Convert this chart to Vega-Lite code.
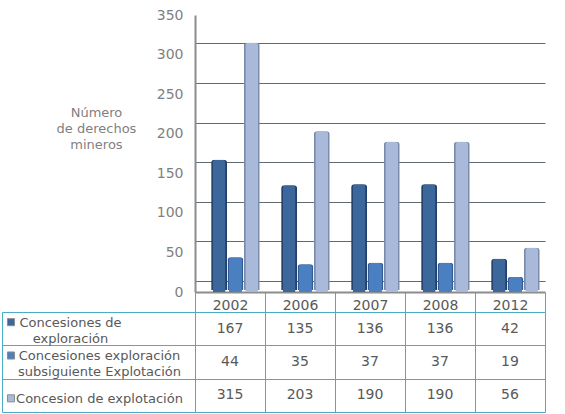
{
  "$schema": "https://vega.github.io/schema/vega-lite/v6.json",
  "background": "white",
  "padding": {"left": 2, "top": 8, "right": 20, "bottom": 1},
  "config": {
    "font": "DejaVu Sans",
    "view": {"stroke": null},
    "axis": {"labelFont": "DejaVu Sans", "titleFont": "DejaVu Sans"}
  },
  "datasets": {
    "derechos": [
      {"anio": "2002", "tipo": "Concesiones de exploración", "n": 167},
      {"anio": "2006", "tipo": "Concesiones de exploración", "n": 135},
      {"anio": "2007", "tipo": "Concesiones de exploración", "n": 136},
      {"anio": "2008", "tipo": "Concesiones de exploración", "n": 136},
      {"anio": "2012", "tipo": "Concesiones de exploración", "n": 42},
      {"anio": "2002", "tipo": "Concesiones exploración subsiguiente Explotación", "n": 44},
      {"anio": "2006", "tipo": "Concesiones exploración subsiguiente Explotación", "n": 35},
      {"anio": "2007", "tipo": "Concesiones exploración subsiguiente Explotación", "n": 37},
      {"anio": "2008", "tipo": "Concesiones exploración subsiguiente Explotación", "n": 37},
      {"anio": "2012", "tipo": "Concesiones exploración subsiguiente Explotación", "n": 19},
      {"anio": "2002", "tipo": "Concesion de explotación", "n": 315},
      {"anio": "2006", "tipo": "Concesion de explotación", "n": 203},
      {"anio": "2007", "tipo": "Concesion de explotación", "n": 190},
      {"anio": "2008", "tipo": "Concesion de explotación", "n": 190},
      {"anio": "2012", "tipo": "Concesion de explotación", "n": 56}
    ]
  },
  "columns": 2,
  "spacing": {"row": 20, "column": 0},
  "bounds": "flush",
  "concat": [
    {
      "width": 193,
      "height": 277,
      "data": {"values": []},
      "mark": "point"
    },
    {
      "width": 350,
      "height": 277,
      "data": {"name": "derechos"},
      "resolve": {"scale": {"y": "independent"}, "axis": {"y": "independent"}},
      "layer": [
        {
          "mark": {"type": "point", "opacity": 0},
          "encoding": {
            "y": {
              "field": "n",
              "type": "quantitative",
              "scale": {"domain": [-14, 336], "nice": false},
              "axis": {
                "orient": "right",
                "values": [0, 50, 100, 150, 200, 250, 300, 350],
                "grid": true,
                "gridColor": "#5f6b70",
                "gridWidth": 1,
                "labels": false,
                "ticks": false,
                "domain": false,
                "title": null
              }
            }
          }
        },
        {
          "encoding": {
            "x": {
              "field": "anio",
              "type": "nominal",
              "scale": {"paddingInner": 0, "paddingOuter": 0},
              "axis": {
                "title": null,
                "labelAngle": 0,
                "labelFontSize": 14,
                "labelColor": "#595959",
                "labelBaseline": "alphabetic",
                "labelPadding": -2.5,
                "domainColor": "#8c8c8c",
                "domainWidth": 2,
                "tickBand": "extent",
                "tickColor": "#4bacc6",
                "tickSize": 20,
                "grid": false
              }
            },
            "xOffset": {
              "field": "tipo",
              "type": "nominal",
              "sort": ["Concesiones de exploración", "Concesiones exploración subsiguiente Explotación", "Concesion de explotación"],
              "scale": {"paddingInner": 0, "paddingOuter": 0.643, "align": 0.76}
            },
            "y": {
              "field": "n",
              "type": "quantitative",
              "scale": {"domain": [0, 350], "nice": false},
              "axis": {
                "orient": "left",
                "values": [0, 50, 100, 150, 200, 250, 300, 350],
                "grid": false,
                "ticks": false,
                "labelPadding": 12,
                "labelFontSize": 14,
                "labelColor": "#7f7f7f",
                "domainColor": "#8c8c8c",
                "domainWidth": 2,
                "title": ["Número", "de derechos", "mineros"],
                "titleAngle": 0,
                "titleAlign": "center",
                "titleBaseline": "top",
                "titleX": -99,
                "titleY": 91,
                "titleFontSize": 13,
                "titleFontWeight": "normal",
                "titleColor": "#7f7f7f",
                "titleLineHeight": 16
              }
            }
          },
          "layer": [
            {
              "mark": {"type": "bar", "width": 16, "yOffset": -2, "cornerRadiusTopLeft": 3, "cornerRadiusTopRight": 3},
              "encoding": {
                "fill": {
                  "field": "tipo",
                  "type": "nominal",
                  "legend": null,
                  "scale": {
                    "domain": ["Concesiones de exploración", "Concesiones exploración subsiguiente Explotación", "Concesion de explotación"],
                    "range": ["#22406a", "#335c94", "#7a8bac"]
                  }
                }
              }
            },
            {
              "mark": {"type": "bar", "width": 13, "cornerRadiusTopLeft": 3, "cornerRadiusTopRight": 3},
              "encoding": {
                "color": {
                  "field": "tipo",
                  "type": "nominal",
                  "legend": null,
                  "scale": {
                    "domain": ["Concesiones de exploración", "Concesiones exploración subsiguiente Explotación", "Concesion de explotación"],
                    "range": ["#3c679b", "#4a7fc2", "#a8b9da"]
                  }
                }
              }
            }
          ]
        }
      ]
    },
    {
      "width": 193,
      "height": 100,
      "data": {"name": "derechos"},
      "transform": [{"filter": "datum.anio == '2002'"}],
      "encoding": {
        "y": {
          "field": "tipo",
          "type": "nominal",
          "sort": ["Concesiones de exploración", "Concesiones exploración subsiguiente Explotación", "Concesion de explotación"],
          "scale": {"type": "band", "paddingInner": 0, "paddingOuter": 0},
          "axis": {
            "title": null,
            "orient": "left",
            "ticks": false,
            "domain": true,
            "domainColor": "#4bacc6",
            "grid": true,
            "gridColor": "#4bacc6",
            "tickBand": "extent",
            "labelAlign": "center",
            "labelBaseline": "middle",
            "labelPadding": {"condition": {"test": "datum.value == 'Concesiones de exploración'", "value": -68}, "value": -97},
            "labelOffset": {"condition": {"test": "datum.value == 'Concesion de explotación'", "value": 3}, "value": -6.5},
            "labelLimit": 0,
            "labelFontSize": 13,
            "labelColor": "#595959",
            "labelLineHeight": 16,
            "labelExpr": "datum.label == 'Concesiones de exploración' ? ['Concesiones de', 'exploración'] : datum.label == 'Concesiones exploración subsiguiente Explotación' ? ['Concesiones exploración', 'subsiguiente Explotación'] : datum.label"
          }
        },
        "color": {
          "field": "tipo",
          "type": "nominal",
          "legend": null,
          "scale": {
            "domain": ["Concesiones de exploración", "Concesiones exploración subsiguiente Explotación", "Concesion de explotación"],
            "range": ["#3c679b", "#4a7fc2", "#a8b9da"]
          }
        }
      },
      "layer": [
        {
          "transform": [{"filter": "datum.tipo != 'Concesion de explotación'"}],
          "mark": {"type": "square", "size": 50, "filled": true, "stroke": "#8c8c8c", "strokeWidth": 1, "opacity": 1, "xOffset": -87.5, "yOffset": -6.5}
        },
        {
          "transform": [{"filter": "datum.tipo == 'Concesion de explotación'"}],
          "mark": {"type": "square", "size": 50, "filled": true, "stroke": "#8c8c8c", "strokeWidth": 1, "opacity": 1, "xOffset": -87.5, "yOffset": 3}
        }
      ]
    },
    {
      "width": 350,
      "height": 100,
      "data": {"name": "derechos"},
      "mark": {"type": "text", "fontSize": 14, "color": "#595959"},
      "encoding": {
        "x": {
          "field": "anio",
          "type": "nominal",
          "scale": {"type": "band", "paddingInner": 0, "paddingOuter": 0},
          "axis": {"title": null, "labels": false, "ticks": false, "domain": false, "grid": true, "gridColor": "#4bacc6", "tickBand": "extent"}
        },
        "y": {
          "field": "tipo",
          "type": "nominal",
          "sort": ["Concesiones de exploración", "Concesiones exploración subsiguiente Explotación", "Concesion de explotación"],
          "scale": {"type": "band", "paddingInner": 0, "paddingOuter": 0},
          "axis": {"title": null, "labels": false, "ticks": false, "domain": false, "grid": true, "gridColor": "#4bacc6", "tickBand": "extent"}
        },
        "text": {"field": "n", "type": "quantitative"}
      }
    }
  ]
}
